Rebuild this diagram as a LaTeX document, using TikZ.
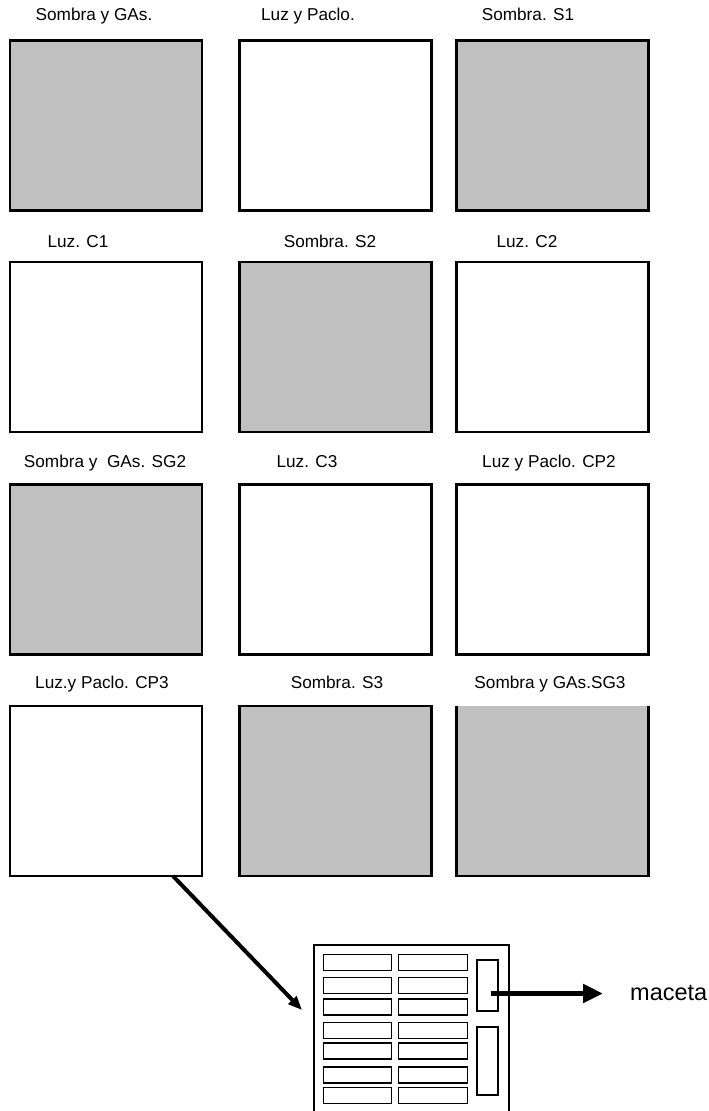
\documentclass[tikz,border=0pt]{standalone}
\usepackage{fontspec}
\setmainfont{Liberation Sans}
\usepackage{tikz}
\usetikzlibrary{positioning,arrows.meta}
\definecolor{sombra}{RGB}{192,192,192}
\tikzset{
  caja/.style={draw,line width=2.2pt,minimum width=192pt,minimum height=170pt,inner sep=0pt,outer sep=0pt},
  lbl/.style={anchor=base,inner sep=0pt,font=\fontsize{17.2}{20}\selectfont},
  celda/.style={draw,line width=1.4pt,minimum width=68.5pt,minimum height=16pt,inner sep=0pt,outer sep=0pt},
  ranura/.style={draw,line width=1.4pt,minimum width=21pt,inner sep=0pt,outer sep=0pt},
  ar/.style={-{Triangle[length=20pt,width=18pt]},line width=5pt},
  dar/.style={-{Triangle[length=14pt,width=11pt]},line width=4pt},
}

\begin{document}
\begin{tikzpicture}[x=1pt,y=-1pt]
  \useasboundingbox (0,0) rectangle (709,1111);
  % parcelas: nombre/x/y/relleno
  \foreach \n/\x/\y/\f in {sga/106/125.5/sombra, lp/335.5/125.5/white, s1/552.5/125.5/sombra,
      c1/106/347/white, s2/335.5/347/sombra, c2/552.5/347/white,
      sg2/106/569.5/sombra, c3/335.5/569.5/white, cp2/552.5/569.5/white,
      cp3/106/791/white, s3/335.5/791/sombra}
    \node[caja,fill=\f] (\n) at (\x,\y) {};
  \node[caja,draw=none,fill=sombra] (sg3) at (552.5,791) {};
  \draw[line width=2.2pt] (sg3.north west) -- (sg3.south west) -- (sg3.south east) -- (sg3.north east);

  % titulos
  \node[lbl] (tsga) at (94,20) {Sombra y GAs.};
  \node[lbl] (tlp) at (308,20) {Luz y Paclo.};
  \node[lbl] (ts1) at (528,20) {Sombra. S1};
  \node[lbl] (tc1) at (78,247) {Luz. C1};
  \node[lbl] (ts2) at (330,247) {Sombra. S2};
  \node[lbl] (tc2) at (527,247) {Luz. C2};
  \node[lbl] (tsg2) at (105,467) {Sombra y~ GAs. SG2};
  \node[lbl] (tc3) at (307,467) {Luz. C3};
  \node[lbl] (tcp2) at (549,467) {Luz y Paclo. CP2};
  \node[lbl] (tcp3) at (102,688) {Luz.y Paclo. CP3};
  \node[lbl] (ts3) at (337,688) {Sombra. S3};
  \node[lbl] (tsg3) at (550,688) {Sombra y GAs.SG3};

  % bandeja
  \node[minimum width=195pt,minimum height=166pt,inner sep=0pt,outer sep=0pt] (bandeja) at (411.5,1028) {};
  \draw[line width=1.8pt] (bandeja.south west) |- (bandeja.north east) -- (bandeja.south east);
  \foreach \y [count=\i] in {962.5,985.5,1007,1030.5,1051,1075,1095.5} {
    \node[celda] (a\i) at (357.5,\y) {};
    \node[celda] (b\i) at (433,\y) {};
  }
  \node[ranura,minimum height=51pt] (r1) at (487.5,985.5) {};
  \node[ranura,minimum height=68pt] (r2) at (487.5,1061) {};

  \node[anchor=west,inner sep=0pt,font=\fontsize{23.5}{28}\selectfont] (maceta) at (630,993.5) {maceta};
  \draw[ar] ([xshift=3.5pt,yshift=-8pt]r1.center) -- ([xshift=-27pt]maceta.west);
  \draw[dar] ([xshift=-29pt]cp3.south east) -- ([xshift=-12pt,yshift=18pt]bandeja.west);
\end{tikzpicture}
\end{document}
